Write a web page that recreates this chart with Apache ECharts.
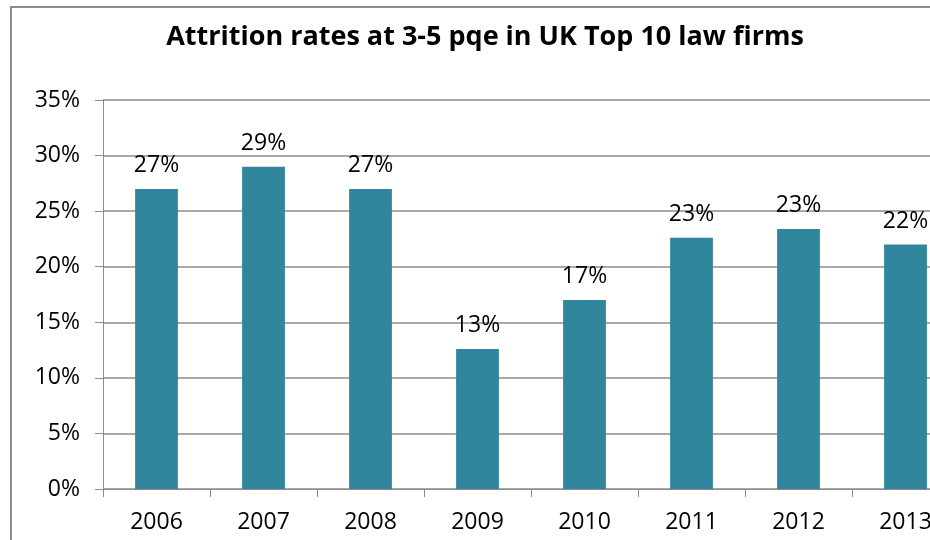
<!DOCTYPE html>
<html>
<head>
<meta charset="utf-8">
<script src="https://cdn.jsdelivr.net/npm/echarts@6/dist/echarts.min.js"></script>
<style>
  html, body { margin: 0; padding: 0; background: #fff; }
  #chart { width: 930px; height: 540px; }
</style>
</head>
<body>
<div id="chart"></div>
<script>
// Attrition rates (%) at 3-5 years post-qualification experience
const titleText = 'Attrition rates at 3-5 pqe in UK Top 10 law firms';
const years = ['2006', '2007', '2008', '2009', '2010', '2011', '2012', '2013'];
const attritionRates = [27.0, 29.0, 27.0, 12.6, 17.0, 22.6, 23.4, 22.0];
const yTicks = { min: 0, max: 35, step: 5 };

const FONT = '"Open Sans", Lato, sans-serif';
const GREY = '#8c8c8c';

const chart = echarts.init(document.getElementById('chart'), null, { renderer: 'canvas' });

chart.setOption({
  backgroundColor: '#ffffff',
  animation: false,
  title: {
    text: titleText,
    left: 480,
    textAlign: 'center',
    top: 19,
    textStyle: { fontFamily: FONT, fontWeight: 'bold', fontSize: 27, color: '#000' }
  },
  graphic: [{
    type: 'rect',
    shape: { x: 11, y: 7, width: 940, height: 560 },
    style: { fill: 'none', stroke: GREY, lineWidth: 2 },
    silent: true
  }],
  // the plot runs past the right edge of the canvas, so the last bar is cut off
  grid: {
    left: 103, width: 856, top: 100, height: 389,
    containLabel: false, outerBoundsMode: 'none'
  },
  xAxis: {
    type: 'category',
    data: years,
    boundaryGap: true,
    axisLine: { lineStyle: { color: GREY, width: 1 } },
    axisTick: { show: true, length: 8, lineStyle: { color: GREY } },
    axisLabel: { fontFamily: FONT, fontSize: 23, color: '#000', margin: 22 }
  },
  yAxis: {
    type: 'value',
    min: yTicks.min,
    max: yTicks.max,
    interval: yTicks.step,
    axisLine: { show: true, lineStyle: { color: GREY, width: 1 } },
    axisTick: { show: true, length: 8, lineStyle: { color: GREY } },
    splitLine: { show: true, lineStyle: { color: GREY, width: 1.5 } },
    axisLabel: {
      fontFamily: FONT, fontSize: 23, color: '#000', margin: 23,
      formatter: v => v + '%'
    }
  },
  series: [{
    type: 'bar',
    data: attritionRates,
    barWidth: '40%',
    itemStyle: { color: '#31859c' },
    label: {
      show: true,
      position: 'top',
      distance: 12,
      fontFamily: FONT,
      fontSize: 23,
      color: '#000',
      formatter: p => Math.round(p.value) + '%'
    }
  }]
});
</script>
</body>
</html>
